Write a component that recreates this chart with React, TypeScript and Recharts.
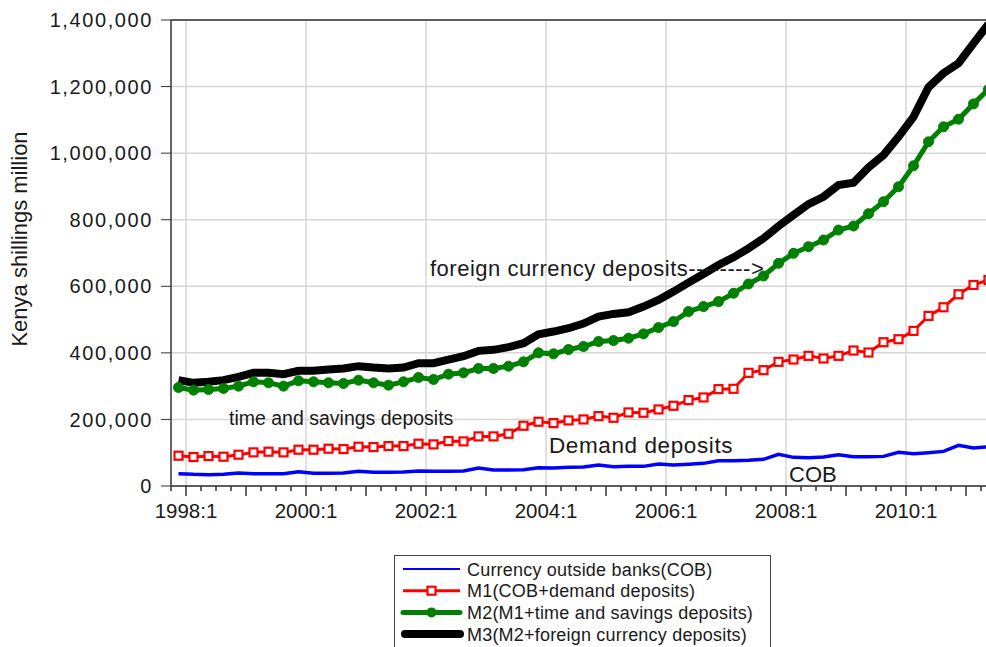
import { LineChart, Line, XAxis, YAxis, CartesianGrid, ReferenceLine } from "recharts";

// quarterly observations, 1997:4 .. 2011:2
const quarters = [
  "1997:4",
  "1998:1", "1998:2", "1998:3", "1998:4",
  "1999:1", "1999:2", "1999:3", "1999:4",
  "2000:1", "2000:2", "2000:3", "2000:4",
  "2001:1", "2001:2", "2001:3", "2001:4",
  "2002:1", "2002:2", "2002:3", "2002:4",
  "2003:1", "2003:2", "2003:3", "2003:4",
  "2004:1", "2004:2", "2004:3", "2004:4",
  "2005:1", "2005:2", "2005:3", "2005:4",
  "2006:1", "2006:2", "2006:3", "2006:4",
  "2007:1", "2007:2", "2007:3", "2007:4",
  "2008:1", "2008:2", "2008:3", "2008:4",
  "2009:1", "2009:2", "2009:3", "2009:4",
  "2010:1", "2010:2", "2010:3", "2010:4",
  "2011:1", "2011:2",
];

const tickLabels = ["1998:1", "2000:1", "2002:1", "2004:1", "2006:1", "2008:1", "2010:1"];
const yTicks = [0, 200000, 400000, 600000, 800000, 1000000, 1200000, 1400000];

const cob = [
  37000, 35000, 34000, 35000, 39000, 37000, 37000, 37000, 43000, 38000,
  38000, 39000, 44000, 41000, 41000, 42000, 45000, 44000, 44000, 45000,
  54000, 48000, 48000, 49000, 55000, 54000, 56000, 57000, 63000, 58000,
  59000, 59000, 66000, 63000, 65000, 68000, 76000, 76000, 77000, 80000,
  95000, 86000, 85000, 87000, 94000, 88000, 88000, 89000, 101000, 97000,
  100000, 104000, 122000, 114000, 118000,
];

const m1 = [
  91000, 87000, 90000, 88000, 94000, 101000, 103000, 101000, 109000, 109000,
  112000, 111000, 118000, 117000, 120000, 120000, 127000, 125000, 135000, 134000,
  149000, 149000, 157000, 181000, 193000, 189000, 197000, 200000, 210000, 205000,
  221000, 220000, 230000, 241000, 258000, 266000, 291000, 292000, 340000, 348000,
  373000, 380000, 391000, 383000, 391000, 407000, 401000, 432000, 441000, 466000,
  511000, 537000, 576000, 604000, 619000,
];

const m2 = [
  296000, 288000, 290000, 293000, 300000, 313000, 310000, 300000, 316000, 313000,
  310000, 308000, 318000, 310000, 303000, 313000, 326000, 320000, 336000, 340000,
  353000, 353000, 360000, 373000, 400000, 397000, 410000, 419000, 434000, 437000,
  444000, 457000, 476000, 494000, 524000, 539000, 554000, 579000, 607000, 631000,
  669000, 699000, 719000, 739000, 769000, 781000, 818000, 854000, 899000, 962000,
  1034000, 1079000, 1102000, 1148000, 1192000,
];

const m3 = [
  318000, 310000, 313000, 318000, 328000, 340000, 340000, 336000, 346000, 346000,
  350000, 353000, 360000, 356000, 353000, 356000, 369000, 369000, 380000, 390000,
  406000, 409000, 417000, 429000, 456000, 464000, 474000, 488000, 509000, 517000,
  522000, 539000, 559000, 584000, 611000, 637000, 664000, 687000, 714000, 744000,
  781000, 814000, 847000, 869000, 904000, 911000, 957000, 994000, 1049000, 1109000,
  1198000, 1240000, 1270000, 1330000, 1388000,
];

const seriesNames = [
  "Currency outside banks(COB)",
  "M1(COB+demand deposits)",
  "M2(M1+time and savings deposits)",
  "M3(M2+foreign currency deposits)",
];

const rows = quarters.map((q, i) => ({ k: i, q, cob: cob[i], m1: m1[i], m2: m2[i], m3: m3[i] }));
const tickPos = quarters.map((_, i) => i - 0.5).concat([quarters.length - 0.5]);

const FONT = "'Liberation Sans', Arial, sans-serif";
const AXIS = "#333";
const GRID = "#d6d6d6";

const XTick = (props: any) => {
  const { x, y, payload } = props;
  const q = quarters[Math.round(payload.value + 0.5)] || "";
  const isYear = q.endsWith(":1");
  const label = tickLabels.includes(q) ? q : "";
  return (
    <g>
      <line x1={x} y1={y} x2={x} y2={y + (isYear ? 10 : 5)} stroke={AXIS} strokeWidth={1.5} />
      {label && (
        <text x={x} y={y + 32} textAnchor="middle" fontSize={20.5} fill="#1a1a1a" fontFamily={FONT}>
          {label}
        </text>
      )}
    </g>
  );
};

const SquareDot = (props: any) => {
  const { cx, cy, index } = props;
  return <rect key={"sq" + index} x={cx - 4} y={cy - 4} width={8} height={8} fill="#fff" stroke="#ff0000" strokeWidth={2.2} />;
};

export default function App() {
  return (
    <div style={{ position: "fixed", left: 0, top: 0, width: 986, height: 647, overflow: "hidden", background: "#fff", fontFamily: FONT }}>
      <LineChart width={1000} height={647} data={rows} margin={{ top: 20, right: 4, left: 71, bottom: 131 }}>
        <CartesianGrid vertical={false} stroke={GRID} strokeWidth={1.5} />
        {tickLabels.map(l => (
          <ReferenceLine key={l} x={quarters.indexOf(l) - 0.5} stroke={GRID} strokeWidth={1.5} />
        ))}
        <ReferenceLine y={1400000} stroke={AXIS} strokeWidth={1.5} />
        <XAxis
          type="number"
          dataKey="k"
          height={30}
          domain={[-0.5, quarters.length - 0.5]}
          ticks={tickPos}
          interval={0}
          tickLine={false}
          tickSize={0}
          tickMargin={0}
          tick={<XTick />}
          axisLine={{ stroke: AXIS, strokeWidth: 1.5 }}
          allowDataOverflow
        />
        <YAxis
          domain={[0, 1400000]}
          ticks={yTicks}
          interval={0}
          width={100}
          tickSize={10}
          tickMargin={8}
          tickLine={{ stroke: AXIS }}
          axisLine={{ stroke: AXIS, strokeWidth: 1.5 }}
          tickFormatter={(v: number) => v.toLocaleString("en-US")}
          tick={{ fontSize: 20, fill: "#1a1a1a", letterSpacing: 1.6, fontFamily: FONT }}
          allowDataOverflow
        />
        <Line dataKey="cob" name={seriesNames[0]} stroke="#0000ff" strokeWidth={3.5} dot={false} isAnimationActive={false} />
        <Line dataKey="m1" name={seriesNames[1]} stroke="#ff0000" strokeWidth={3} dot={<SquareDot />} isAnimationActive={false} />
        <Line
          dataKey="m2"
          name={seriesNames[2]}
          stroke="#008000"
          strokeWidth={5}
          dot={{ r: 5, fill: "#008000", stroke: "#008000", strokeWidth: 1 }}
          isAnimationActive={false}
        />
        <Line dataKey="m3" name={seriesNames[3]} stroke="#000000" strokeWidth={8} dot={false} isAnimationActive={false} />
      </LineChart>

      {/* annotations */}
      <svg width={986} height={647} style={{ position: "absolute", left: 0, top: 0, pointerEvents: "none" }} fontFamily={FONT} fill="#1a1a1a">
        <text transform="translate(27,239) rotate(-90)" textAnchor="middle" fontSize={22}>
          Kenya shillings million
        </text>
        <text x={430} y={276} fontSize={22} letterSpacing={0.5}>foreign currency deposits--------&gt;</text>
        <text x={229} y={425} fontSize={19.5}>time and savings deposits</text>
        <text x={549} y={453} fontSize={22.5} letterSpacing={0.6}>Demand deposits</text>
        <text x={789} y={482} fontSize={22}>COB</text>
      </svg>

      {/* legend */}
      <svg width={378} height={100} style={{ position: "absolute", left: 394, top: 555 }} fontFamily={FONT}>
        <rect x={0.5} y={0.5} width={376} height={110} fill="#fff" stroke="#444" strokeWidth={1} />
        {seriesNames.map((name, i) => {
          const cy = 14 + i * 21.7;
          return (
            <g key={name}>
              {i === 0 && <line x1={9} x2={66} y1={cy} y2={cy} stroke="#0000ff" strokeWidth={2} />}
              {i === 1 && (
                <g>
                  <line x1={9} x2={66} y1={cy} y2={cy} stroke="#ff0000" strokeWidth={3} />
                  <rect x={33.5} y={cy - 4} width={8} height={8} fill="#fff" stroke="#ff0000" strokeWidth={2.2} />
                </g>
              )}
              {i === 2 && (
                <g>
                  <line x1={9} x2={66} y1={cy} y2={cy} stroke="#008000" strokeWidth={5} strokeLinecap="round" />
                  <circle cx={37.5} cy={cy} r={5} fill="#008000" />
                </g>
              )}
              {i === 3 && <line x1={11} x2={66} y1={cy} y2={cy} stroke="#000" strokeWidth={8} strokeLinecap="round" />}
              <text x={73} y={cy + 6.5} fontSize={18} letterSpacing={0.2} fill="#1a1a1a">
                {name}
              </text>
            </g>
          );
        })}
      </svg>
    </div>
  );
}
